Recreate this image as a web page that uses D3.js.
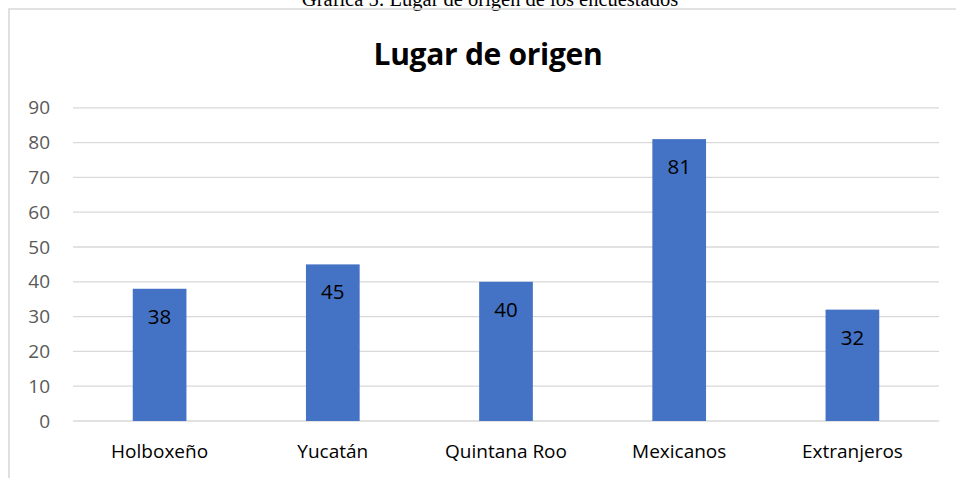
<!DOCTYPE html>
<html>
<head>
<meta charset="utf-8">
<script src="https://cdn.jsdelivr.net/npm/d3@7"></script>
<style>
  body { margin: 0; background: #fff; }
  svg { display: block; }
</style>
</head>
<body>
<div id="chart"></div>
<script>
// data
const categories = ['Holboxeño', 'Yucatán', 'Quintana Roo', 'Mexicanos', 'Extranjeros'];
const values = [38, 45, 40, 81, 32];
const yTicks = [0, 10, 20, 30, 40, 50, 60, 70, 80, 90];
const caption = 'Gráfica 5: Lugar de origen de los encuestados';
const title = 'Lugar de origen';

const width = 956, height = 478;
const plot = {left: 73, right: 939, top: 107.8, bottom: 421};

const svg = d3.select('#chart').append('svg')
  .attr('width', width)
  .attr('height', height);

// caption above the chart box (cut off by the page top)
svg.append('text')
  .attr('x', 490)
  .attr('y', 5.5)
  .attr('text-anchor', 'middle')
  .style('font-family', '"Liberation Serif", "Times New Roman", serif')
  .style('font-size', '20.5px')
  .attr('fill', '#000')
  .text(caption);

// chart frame
svg.append('path')
  .attr('d', `M9,${height + 2} L9,9 L${width + 2},9`)
  .attr('fill', 'none')
  .attr('stroke', '#d9d9d9')
  .attr('stroke-width', 1.6);

svg.append('text')
  .attr('x', 488)
  .attr('y', 65)
  .attr('text-anchor', 'middle')
  .style('font-family', '"Open Sans", sans-serif')
  .style('font-weight', 'bold')
  .style('font-size', '30px')
  .style('letter-spacing', '-0.3px')
  .attr('fill', '#000')
  .text(title);

const x = d3.scaleBand()
  .domain(categories)
  .range([plot.left, plot.right])
  .paddingInner(0.69)
  .paddingOuter(0.345);

const y = d3.scaleLinear()
  .domain([0, 90])
  .range([plot.bottom, plot.top]);

// gridlines
svg.append('g')
  .selectAll('line')
  .data(yTicks)
  .join('line')
  .attr('x1', plot.left)
  .attr('x2', plot.right)
  .attr('y1', d => y(d))
  .attr('y2', d => y(d))
  .attr('stroke', '#d9d9d9')
  .attr('stroke-width', 1.3);

// y axis labels
const yAxis = svg.append('g')
  .attr('transform', `translate(${plot.left - 23},0)`)
  .call(d3.axisLeft(y).tickValues(yTicks).tickSize(0).tickPadding(0));
yAxis.select('.domain').remove();
yAxis.selectAll('text')
  .style('font-family', '"Open Sans", sans-serif')
  .style('font-size', '19px')
  .attr('fill', '#595959');

// bars
svg.append('g')
  .selectAll('rect')
  .data(values)
  .join('rect')
  .attr('x', (d, i) => x(categories[i]))
  .attr('width', x.bandwidth())
  .attr('y', d => y(d))
  .attr('height', d => y(0) - y(d))
  .attr('fill', '#4472c4');

// data labels inside end
svg.append('g')
  .selectAll('text')
  .data(values)
  .join('text')
  .attr('x', (d, i) => x(categories[i]) + x.bandwidth() / 2)
  .attr('y', d => y(d) + 35)
  .attr('text-anchor', 'middle')
  .style('font-family', '"Open Sans", sans-serif')
  .style('font-size', '20.5px')
  .attr('fill', '#000')
  .text(d => d);

// category labels
const xAxis = svg.append('g')
  .attr('transform', `translate(0,${plot.bottom})`)
  .call(d3.axisBottom(x).tickSize(0).tickPadding(0));
xAxis.select('.domain').remove();
xAxis.selectAll('text')
  .attr('dy', null)
  .attr('y', 37)
  .style('font-family', '"Open Sans", sans-serif')
  .style('font-size', '19px')
  .attr('fill', '#000');
</script>
</body>
</html>
